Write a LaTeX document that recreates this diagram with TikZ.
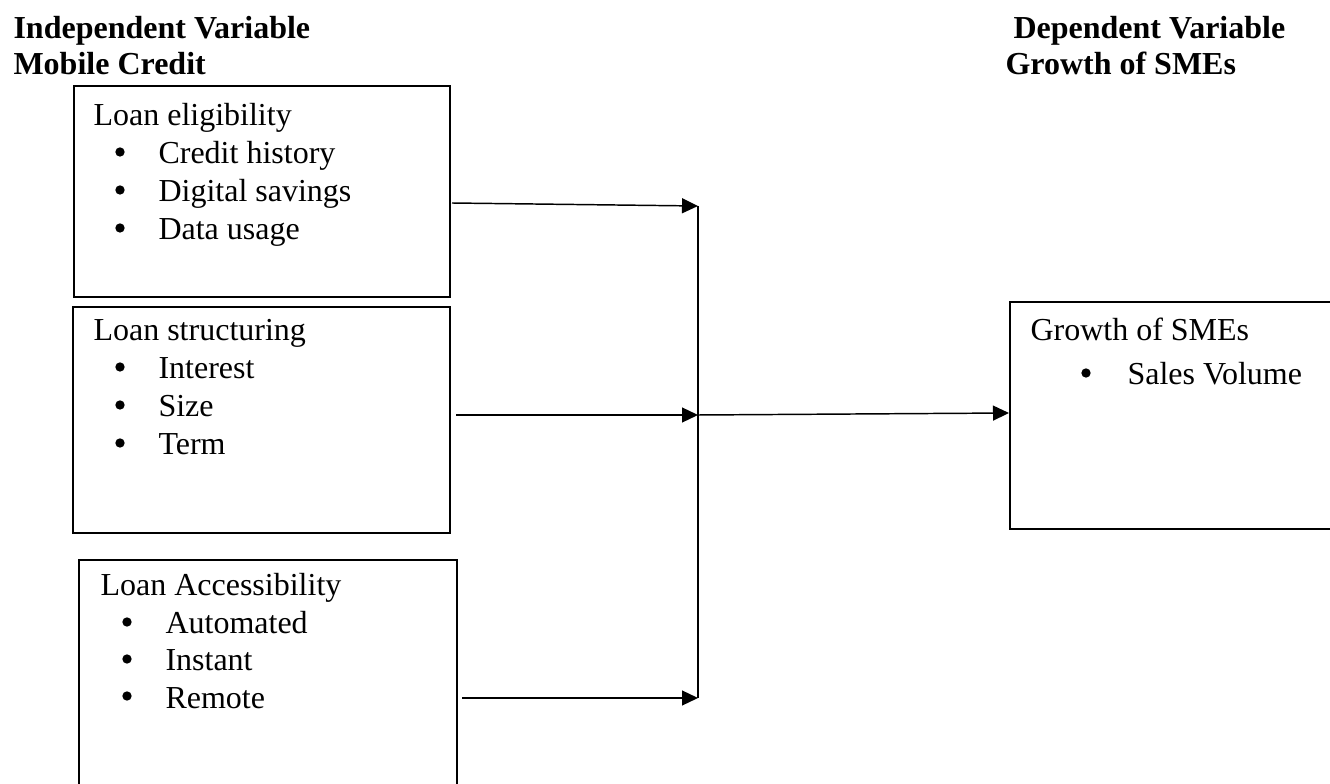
\documentclass[tikz,border=0pt]{standalone}
\usepackage{fontspec}
\setmainfont{Liberation Serif}
\usetikzlibrary{arrows.meta}
\begin{document}
\begin{tikzpicture}[x=0.375pt,y=-0.375pt,
  box/.style={draw=black,line width=0.75pt,inner sep=0pt,anchor=north west},
  txt/.style={anchor=base west,inner sep=0pt,font=\fontsize{12pt}{14pt}\selectfont},
  hdr/.style={anchor=base west,inner sep=0pt,font=\fontsize{12pt}{14pt}\selectfont\bfseries},
  dot/.style={circle,fill=black,inner sep=0pt,minimum size=3.5pt},
  conn/.style={line width=0.55pt},
  arr/.style={line width=0.55pt,-{Triangle[length=6pt,width=5.6pt]}}]
\useasboundingbox (0,0) rectangle (1330,784);
\clip (0,0) rectangle (1330,784);
% headers
\node[hdr] (h1) at (13,39) {Independent Variable};
\node[hdr] (h2) at (13,75) {Mobile Credit};
\node[hdr] (h3) at (1013,39) {Dependent Variable};
\node[hdr] (h4) at (1005,75) {Growth of SMEs};
% boxes
\node[box,minimum width=141pt,minimum height=79.1pt] (b1) at (73,85) {};
\node[box,minimum width=141.4pt,minimum height=84.75pt] (b2) at (72,306) {};
\node[box,minimum width=141.75pt,minimum height=90pt] (b3) at (78,559) {};
\node[box,minimum width=130pt,minimum height=85pt] (b4) at (1009,301) {};
% box 1 text
\node[txt] (t1) at (93,126) {Loan eligibility};
\node[dot] (d1a) at (120,152) {};
\node[txt] (t1b) at (158,164) {Credit history};
\node[dot] (d1b) at (120,190) {};
\node[txt] (t1d) at (158,202) {Digital savings};
\node[dot] (d1c) at (120,228) {};
\node[txt] (t1f) at (158,240) {Data usage};
% box 2 text
\node[txt] (t2) at (93,341) {Loan structuring};
\node[dot] (d2a) at (120,367) {};
\node[txt] (t2b) at (158,379) {Interest};
\node[dot] (d2b) at (120,405) {};
\node[txt] (t2d) at (158,417) {Size};
\node[dot] (d2c) at (120,443) {};
\node[txt] (t2f) at (158,455) {Term};
% box 3 text
\node[txt] (t3) at (100,596) {Loan Accessibility};
\node[dot] (d3a) at (127,622) {};
\node[txt] (t3b) at (165,634) {Automated};
\node[dot] (d3b) at (127,659) {};
\node[txt] (t3d) at (165,671) {Instant};
\node[dot] (d3c) at (127,696) {};
\node[txt] (t3f) at (165,708) {Remote};
% box 4 text
\node[txt] (t4) at (1030,341) {Growth of SMEs};
\node[dot] (d4a) at (1086,373) {};
\node[txt] (t4b) at (1127,385) {Sales Volume};
% connectors
\coordinate (s1) at (452,203);
\coordinate (s2) at (456,415);
\coordinate (s3) at (462,698);
\coordinate (j1) at (698,206);
\coordinate (j2) at (698,415);
\coordinate (j3) at (698,698);
\coordinate (e4) at (1009,413);
\draw[arr] (s1) -- (j1);
\draw[arr] (s2) -- (j2);
\draw[arr] (s3) -- (j3);
\draw[conn] (j1) -- (j3);
\draw[arr] (j2) -- (e4);
\end{tikzpicture}
\end{document}
